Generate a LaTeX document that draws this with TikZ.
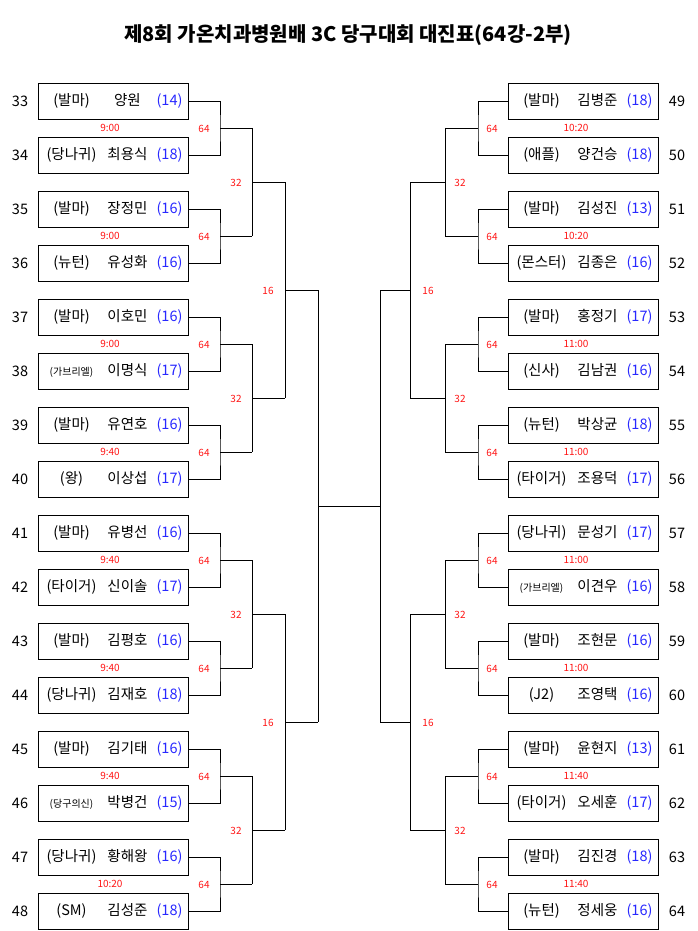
\documentclass[tikz,border=0pt]{standalone}
\usepackage{fontspec}
\setmainfont{Noto Sans CJK KR}
\usepackage{xcolor}
\usetikzlibrary{calc}
\definecolor{scorecol}{RGB}{40,40,255}
\definecolor{timecol}{RGB}{255,20,20}
\tikzset{
  player/.style={draw,line width=0.8pt,minimum width=150pt,minimum height=36pt,inner sep=0pt},
  small/.style={font=\fontsize{10}{11}\selectfont,text=timecol},
  bracket/.style={line width=0.8pt}
}
\newcommand{\entry}[5]{%
  \fontsize{14.5}{16}\selectfont\makebox[62pt][c]{#2}\makebox[50pt][c]{#3}\makebox[34pt][c]{\color{scorecol}(#4)}}
\begin{document}
\begin{tikzpicture}[x=1pt,y=-1pt]
\useasboundingbox (0,0) rectangle (697,931);
\node[font=\fontsize{20}{22}\selectfont\bfseries] (title) at (348,35) {제8회 가온치과병원배 3C 당구대회 대진표(64강-2부)};
% left side
\foreach \i/\club/\nm/\sc in {0/(발마)/양원/14, 1/(당나귀)/최용식/18, 2/(발마)/장정민/16, 3/(뉴턴)/유성화/16,
  4/(발마)/이호민/16, 5/{\fontsize{10}{11}\selectfont(가브리엘)}/이명식/17, 6/(발마)/유연호/16, 7/(왕)/이상섭/17,
  8/(발마)/유병선/16, 9/(타이거)/신이솔/17, 10/(발마)/김평호/16, 11/(당나귀)/김재호/18,
  12/(발마)/김기태/16, 13/{\fontsize{10}{11}\selectfont(당구의신)}/박병건/15, 14/(당나귀)/황해왕/16, 15/(SM)/김성준/18}{
  \pgfmathtruncatemacro{\num}{33+\i}
  \node[player] (L\i) at (113.5,{101+54*\i}) {\entry{}{\club}{\nm}{\sc}{}};
  \node[font=\fontsize{14.5}{16}\selectfont] (LN\i) at (20,{101+54*\i}) {\num};
}
% right side
\foreach \i/\club/\nm/\sc in {0/(발마)/김병준/18, 1/(애플)/양건승/18, 2/(발마)/김성진/13, 3/(몬스터)/김종은/16,
  4/(발마)/홍정기/17, 5/(신사)/김남권/16, 6/(뉴턴)/박상균/18, 7/(타이거)/조용덕/17,
  8/(당나귀)/문성기/17, 9/{\fontsize{10}{11}\selectfont(가브리엘)}/이견우/16, 10/(발마)/조현문/16, 11/(J2)/조영택/16,
  12/(발마)/윤현지/13, 13/(타이거)/오세훈/17, 14/(발마)/김진경/18, 15/(뉴턴)/정세웅/16}{
  \pgfmathtruncatemacro{\num}{49+\i}
  \node[player] (R\i) at (583.5,{101+54*\i}) {\entry{}{\club}{\nm}{\sc}{}};
  \node[font=\fontsize{14.5}{16}\selectfont] (RN\i) at (677,{101+54*\i}) {\num};
}
% times
\foreach \j/\lt/\rt in {0/9:00/10:20, 1/9:00/10:20, 2/9:00/11:00, 3/9:40/11:00,
  4/9:40/11:00, 5/9:40/11:00, 6/9:40/11:40, 7/10:20/11:40}{
  \node[small] (LT\j) at (110,{128+108*\j}) {\lt};
  \node[small] (RT\j) at (576,{128+108*\j}) {\rt};
}
% round of 64
\foreach \j in {0,...,7}{
  \pgfmathtruncatemacro{\a}{2*\j}
  \pgfmathtruncatemacro{\b}{2*\j+1}
  \draw[bracket] (L\a.east) -| (220,{128+108*\j}) |- (L\b.east);
  \draw[bracket] (220,{128+108*\j}) -- (252,{128+108*\j});
  \node[small] (L64\j) at (204,{129+108*\j}) {64};
  \draw[bracket] (R\a.west) -| (478,{128+108*\j}) |- (R\b.west);
  \draw[bracket] (478,{128+108*\j}) -- (445,{128+108*\j});
  \node[small] (R64\j) at (492,{129+108*\j}) {64};
}
% round of 32
\foreach \k in {0,...,3}{
  \draw[bracket] (252,{128+216*\k}) -- (252,{236+216*\k});
  \draw[bracket] (252,{182+216*\k}) -- (285,{182+216*\k});
  \node[small] (L32\k) at (236,{183+216*\k}) {32};
  \draw[bracket] (445,{128+216*\k}) -- (445,{236+216*\k});
  \draw[bracket] (445,{182+216*\k}) -- (410,{182+216*\k});
  \node[small] (R32\k) at (460,{183+216*\k}) {32};
}
% round of 16
\foreach \m in {0,1}{
  \draw[bracket] (285,{182+432*\m}) -- (285,{398+432*\m});
  \draw[bracket] (285,{290+432*\m}) -- (318,{290+432*\m});
  \node[small] (L16\m) at (268,{291+432*\m}) {16};
  \draw[bracket] (410,{182+432*\m}) -- (410,{398+432*\m});
  \draw[bracket] (410,{290+432*\m}) -- (380,{290+432*\m});
  \node[small] (R16\m) at (428,{291+432*\m}) {16};
}
% final
\draw[bracket] (318,290) -- (318,722);
\draw[bracket] (380,290) -- (380,722);
\draw[bracket] (318,506) -- (380,506);
\end{tikzpicture}
\end{document}
